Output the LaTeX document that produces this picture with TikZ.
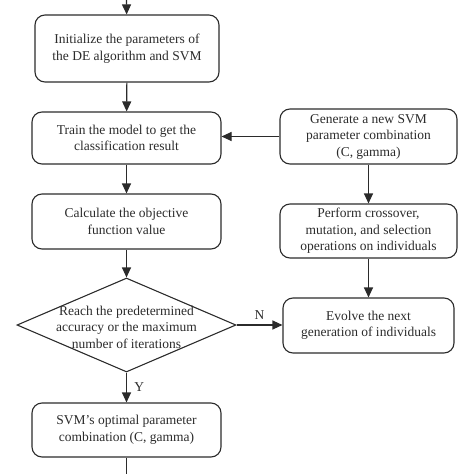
\documentclass[tikz,border=0pt]{standalone}
\usepackage{fontspec}
\setmainfont{Liberation Serif}
\usetikzlibrary{arrows.meta,shapes.geometric}
\definecolor{ink}{HTML}{2B2B2B}
\begin{document}
\begin{tikzpicture}[x=1pt,y=-1pt,
  box/.style={draw=ink, line width=1.1pt, rounded corners=10pt, align=center, text=ink,
    font=\fontsize{13.5}{16.5}\selectfont, inner sep=0pt},
  dia/.style={draw=ink, line width=1.1pt, diamond, inner sep=0pt},
  lbl/.style={text=ink, font=\fontsize{13.5}{16.5}\selectfont, align=center},
  flow/.style={draw=ink, line width=1.1pt, -{Triangle[length=10pt,width=9pt]}}]
\useasboundingbox (0,0) rectangle (474,474);
\node[box, minimum width=184pt, minimum height=67pt] (init) at (127,48.5)
  {Initialize the parameters of\\the DE algorithm and SVM};
\node[box, minimum width=189pt, minimum height=52pt] (train) at (126.5,138)
  {Train the model to get the\\classification result};
\node[box, minimum width=189pt, minimum height=55pt] (calc) at (126.5,221.5)
  {Calculate the objective\\function value};
\node[dia, minimum width=219pt, minimum height=94pt] (dec) at (126.5,325) {};
\node[lbl] (dectext) at (126.5,327) {Reach the predetermined\\accuracy or the maximum\\number of iterations};
\node[box, minimum width=189pt, minimum height=54pt] (opt) at (126.5,430)
  {SVM's optimal parameter\\combination (C, gamma)};
\node[box, minimum width=177pt, minimum height=55pt] (gen) at (368.5,136.5)
  {Generate a new SVM\\parameter combination\\(C, gamma)};
\node[box, minimum width=177pt, minimum height=54pt] (perf) at (368.5,231)
  {Perform crossover,\\mutation, and selection\\operations on individuals};
\node[box, minimum width=171pt, minimum height=55pt] (evo) at (368.5,325.5)
  {Evolve the next\\generation of individuals};
\coordinate (start) at (126.5,0);
\coordinate (finish) at (126.5,474);
\draw[flow] (start) -- (init);
\draw[flow] (init) -- (train);
\draw[flow] (train) -- (calc);
\draw[flow] (calc) -- (dec.north);
\draw[flow] (dec.south) -- node[lbl, right, xshift=4pt] (ylab) {Y} (opt);
\draw[flow] (dec.east) -- node[lbl, above, yshift=2pt] (nlab) {N} (evo.west |- dec.east);
\draw[flow] (gen.west) -- (train.east |- gen.west);
\draw[flow] (gen) -- (perf);
\draw[flow] (perf) -- (evo);
\draw[draw=ink, line width=1.1pt] (opt) -- (finish);
\end{tikzpicture}
\end{document}
